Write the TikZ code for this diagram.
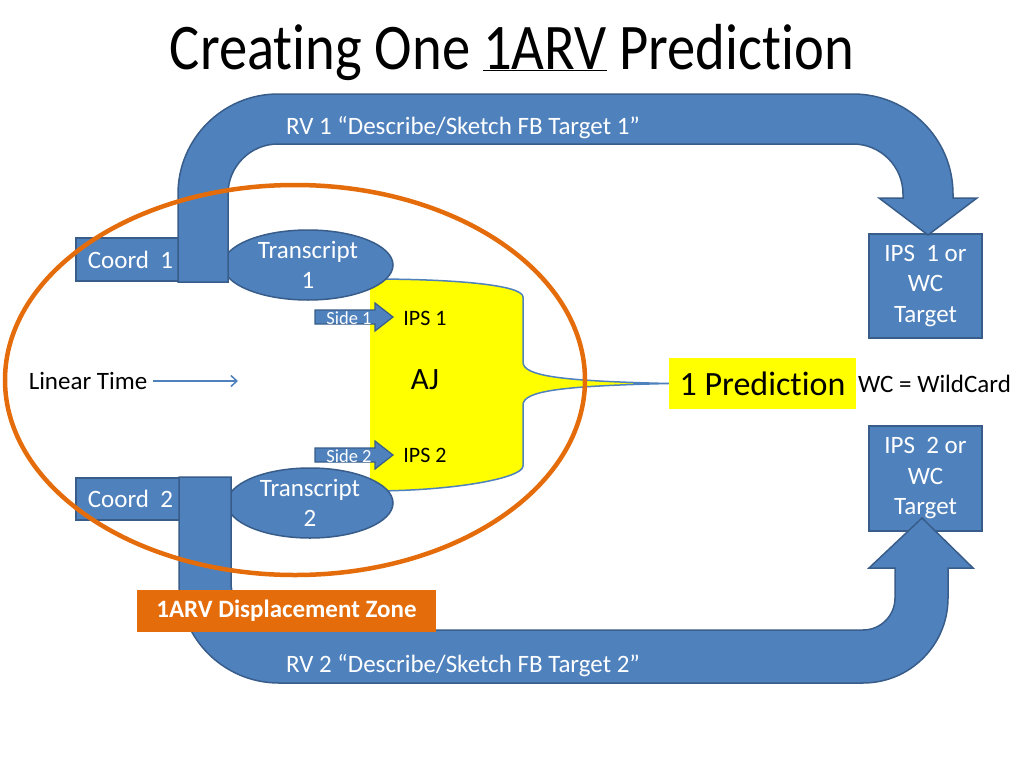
\documentclass[tikz,border=0pt]{standalone}
\usepackage{fontspec}
\setmainfont{Carlito}[Ligatures=NoCommon]
\usetikzlibrary{shapes.geometric,arrows.meta}
\definecolor{pblue}{HTML}{4F81BD}
\definecolor{pbline}{HTML}{385D8A}
\definecolor{porange}{HTML}{E46C0A}
\definecolor{pyellow}{HTML}{FFFF00}
\begin{document}
\begin{tikzpicture}[x=1pt,y=-1pt,
  blueshape/.style={fill=pblue, draw=pbline, line width=1.5pt},
  bluebox/.style={blueshape, rectangle, inner sep=0pt, text=white, align=center, font=\fontsize{25}{30.5}\selectfont},
  blueell/.style={blueshape, ellipse, inner sep=0pt, text=white, align=center, font=\fontsize{25}{30}\selectfont},
  blacktext/.style={text=black, inner sep=0pt},
  whitetext/.style={text=white, inner sep=0pt},
]
\useasboundingbox[fill=white] (0,0) rectangle (1024,768);

% title
\node[anchor=base, inner sep=0pt] (title) at (512,69) {\scalebox{1}[1.15]{\fontsize{56.6}{60}\selectfont Creating One \underline{1ARV} Prediction}};

% prediction box
\node[fill=pyellow, minimum width=187pt, minimum height=51pt, inner sep=0pt, font=\fontsize{34}{40}\selectfont] (pred) at (762.5,383.5) {1 Prediction};
\node[blacktext, anchor=west, font=\fontsize{25}{30}\selectfont] (wc) at (858,384) {WC = WildCard};

% AJ brace
\fill[pyellow] (370,279) .. controls (455,279) and (523,285) .. (523,297) -- (523,362)
  .. controls (523,376) and (560,381) .. (pred.west)
  .. controls (560,386) and (523,391) .. (523,405) -- (523,466)
  .. controls (523,478) and (455,491) .. (370,491) -- cycle;
\draw[pblue, line width=1.5pt] (370,279) .. controls (455,279) and (523,285) .. (523,297) -- (523,362)
  .. controls (523,376) and (560,381) .. (pred.west)
  .. controls (560,386) and (523,391) .. (523,405) -- (523,466)
  .. controls (523,478) and (455,491) .. (370,491);

% coord boxes
\node[bluebox, minimum width=109pt, minimum height=43pt] (coord1) at (130.5,259.5) {Coord~~1};
\node[bluebox, minimum width=109pt, minimum height=42pt] (coord2) at (130.5,499) {Coord~~2};

% transcripts
\node[blueell, minimum width=170pt, minimum height=70pt] (tr1) at (308,265) {Transcript\\1};
\node[blueell, minimum width=166pt, minimum height=70pt] (tr2) at (310,503) {Transcript\\2};

% target boxes
\node[bluebox, minimum width=113pt, minimum height=104pt] (t1) at (925.5,286) {IPS~~1 or\\WC\\Target};
\node[bluebox, minimum width=113pt, minimum height=105pt] (t2) at (925.5,478.5) {IPS~~2 or\\WC\\Target};

% upper curved arrow
\path[blueshape] (178,282) -- (178,194) .. controls (178,138.8) and (222.8,94) .. (278,94)
  -- (853,94) .. controls (908.2,94) and (953,138.8) .. (953,194)
  -- (953,198) -- (977,198) -- (928,235) -- (879,198) -- (903,198) -- (903,194)
  .. controls (903,166.4) and (880.6,144) .. (853,144)
  -- (278,144) .. controls (250.4,144) and (228,166.4) .. (228,194)
  -- (228,282) -- cycle;

% lower curved arrow
\path[blueshape] (179,477) -- (179,583) .. controls (179,638.2) and (223.8,683) .. (279,683)
  -- (863,683) .. controls (910,683) and (948,645) .. (948,598)
  -- (948,568) -- (973,568) -- (922,518) -- (869,568) -- (895,568) -- (895,598)
  .. controls (895,615.7) and (880.7,630) .. (863,630)
  -- (279,630) .. controls (252.5,630) and (231,608.5) .. (231,582)
  -- (231,477) -- cycle;

\node[whitetext, anchor=base, font=\fontsize{25}{30}\selectfont] (rv1) at (463,134) {RV 1 “Describe/Sketch FB Target 1”};
\node[whitetext, anchor=base, font=\fontsize{25}{30}\selectfont] (rv2) at (463,672) {RV 2 “Describe/Sketch FB Target 2”};

% side arrows
\path[blueshape, line width=1.2pt] (315,310) -- (375,310) -- (375,303) -- (393,317) -- (375,331) -- (375,324) -- (315,324) -- cycle;
\path[blueshape, line width=1.2pt] (315,448) -- (375,448) -- (375,441) -- (393,455) -- (375,469) -- (375,462) -- (315,462) -- cycle;
\node[whitetext, font=\fontsize{18.5}{22}\selectfont] (s1) at (349,318) {Side 1};
\node[whitetext, font=\fontsize{18.5}{22}\selectfont] (s2) at (349,456) {Side 2};
\node[blacktext, font=\fontsize{22}{26}\selectfont] (ips1) at (425,318) {IPS 1};
\node[blacktext, font=\fontsize{22}{26}\selectfont] (ips2) at (425,455) {IPS 2};
\node[blacktext, font=\fontsize{31}{36}\selectfont] (aj) at (425,380) {AJ};

% linear time
\node[blacktext, font=\fontsize{25}{30}\selectfont] (lt) at (88,381) {Linear Time};
\coordinate (ltend) at (238,381);
\draw[pblue, line width=1.5pt, -{Straight Barb[length=6pt,width=11pt]}] ([xshift=6pt]lt.east) -- (ltend);

% orange ellipse
\draw[porange, line width=4.5pt] (295,380) ellipse [x radius=290, y radius=195];

% displacement zone
\node[fill=porange, minimum width=299pt, minimum height=42pt, inner sep=0pt, text=white, font=\bfseries\fontsize{25}{30}\selectfont] (zone) at (286.5,611) {1ARV Displacement Zone};
\end{tikzpicture}
\end{document}
